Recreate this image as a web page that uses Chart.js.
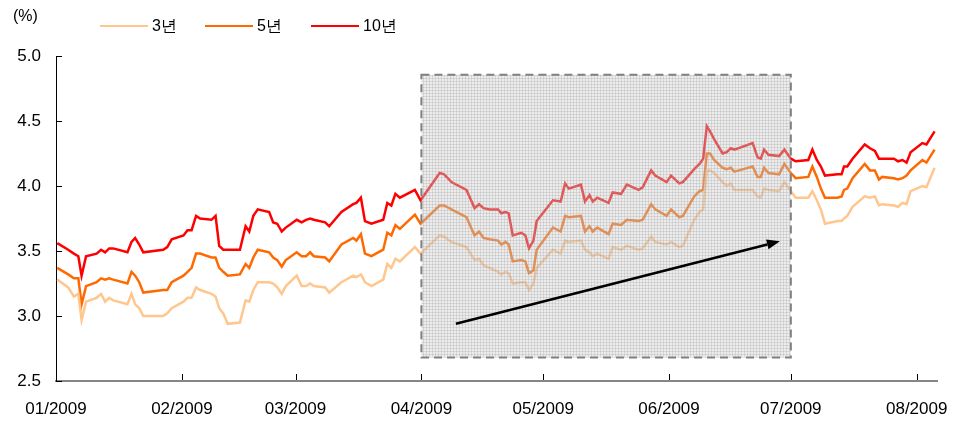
<!DOCTYPE html>
<html lang="ko">
<head>
<meta charset="utf-8">
<title>국고채 금리</title>
<script src="https://cdn.jsdelivr.net/npm/chart.js@4.4.1/dist/chart.umd.min.js"></script>
<style>
  html, body { margin: 0; padding: 0; background: #fff; }
  #wrap { width: 963px; height: 425px; }
</style>
</head>
<body>
<div id="wrap"><canvas id="chart" width="963" height="425"></canvas></div>
<script>
// day of year (0 = 1 Jan 2009) for each observation
const days = [
  0.3, 3.0, 4.4, 5.5, 6.3, 7.4, 10.0, 11.1, 12.1, 13.1, 14.1, 17.6, 18.6, 19.5, 20.5, 21.5, 26.4, 27.4, 28.5, 31.4,
  32.4, 33.4, 34.5, 35.5, 38.3, 39.3, 40.2, 41.2, 42.3, 45.3, 46.7, 47.6, 48.6, 49.7, 52.5, 53.5, 54.5, 55.6, 56.6, 59.3,
  60.5, 61.6, 62.6, 63.5, 66.3, 67.3,
  70.3, 73.2, 74.0, 75.1, 76.1, 77.7, 80.6, 81.6, 82.6, 83.6, 84.7, 88.4, 89.8, 94.5, 95.6, 97.4, 101.1, 103.1, 104.2, 105.3,
  106.8, 108.9, 109.7, 110.7, 111.5, 112.5, 114.6, 115.6, 116.5, 117.6, 118.4, 122.4, 124.3, 125.4, 126.3, 129.3, 130.3, 131.4, 132.2, 133.3,
  136.1, 137.1, 139.2, 140.6,
  143.5, 144.5, 146.6, 147.6, 150.4, 151.5, 153.5, 154.4, 157.2, 158.5, 159.4, 160.3, 161.1, 162.1, 164.2, 165.2, 166.2, 167.1, 171.6, 172.8,
  173.6, 174.4, 175.5, 178.1, 179.4, 181.0, 182.2, 185.3, 186.3, 187.4, 188.4, 189.4, 192.5, 193.5, 194.1, 194.9, 196.2, 199.2, 200.5, 201.7,
  202.7, 203.5, 206.4, 207.4, 208.5, 209.5, 210.5, 213.4, 214.4, 216.4
];

const yield3 = [
  3.28, 3.22, 3.15, 3.17, 2.97, 3.11, 3.14, 3.17, 3.11, 3.14, 3.12, 3.09, 3.17, 3.09, 3.06, 3.00, 3.00, 3.02, 3.06, 3.11,
  3.14, 3.14, 3.22, 3.20, 3.17, 3.15, 3.06, 3.02, 2.94, 2.95, 3.12, 3.11, 3.20, 3.26, 3.26, 3.25, 3.22, 3.17, 3.23, 3.31,
  3.23, 3.23, 3.25, 3.23, 3.22, 3.18,
  3.26, 3.31, 3.30, 3.32, 3.26, 3.23, 3.28, 3.40, 3.37, 3.44, 3.42, 3.53, 3.48, 3.62, 3.61, 3.57, 3.53, 3.43, 3.44, 3.39,
  3.37, 3.34, 3.32, 3.34, 3.33, 3.25, 3.26, 3.26, 3.20, 3.25, 3.37, 3.51, 3.48, 3.58, 3.57, 3.58, 3.51, 3.49, 3.46, 3.48,
  3.44, 3.53, 3.51, 3.54,
  3.51, 3.52, 3.61, 3.57, 3.55, 3.57, 3.53, 3.54, 3.74, 3.80, 3.82, 4.12, 4.12, 4.10, 4.03, 4.00, 4.02, 3.97, 3.97, 3.92,
  3.91, 3.98, 3.97, 3.96, 4.03, 3.96, 3.91, 3.91, 3.96, 3.89, 3.82, 3.71, 3.73, 3.73, 3.75, 3.77, 3.84, 3.92, 3.91, 3.92,
  3.85, 3.86, 3.85, 3.84, 3.87, 3.86, 3.96, 4.00, 3.99, 4.14
];

const yield5 = [
  3.37, 3.32, 3.29, 3.29, 3.09, 3.23, 3.26, 3.29, 3.28, 3.29, 3.28, 3.25, 3.34, 3.31, 3.26, 3.18, 3.20, 3.20, 3.26, 3.31,
  3.34, 3.37, 3.48, 3.48, 3.45, 3.45, 3.37, 3.34, 3.31, 3.32, 3.40, 3.37, 3.45, 3.51, 3.49, 3.45, 3.43, 3.38, 3.43, 3.49,
  3.46, 3.46, 3.49, 3.46, 3.45, 3.42,
  3.55, 3.60, 3.58, 3.63, 3.48, 3.46, 3.51, 3.64, 3.62, 3.70, 3.67, 3.78, 3.71, 3.85, 3.85, 3.82, 3.76, 3.62, 3.65, 3.60,
  3.59, 3.58, 3.55, 3.57, 3.55, 3.42, 3.43, 3.42, 3.33, 3.35, 3.51, 3.68, 3.65, 3.77, 3.76, 3.77, 3.65, 3.69, 3.65, 3.68,
  3.63, 3.71, 3.70, 3.74,
  3.73, 3.74, 3.86, 3.82, 3.77, 3.82, 3.76, 3.77, 3.92, 3.96, 3.97, 4.25, 4.25, 4.20, 4.14, 4.13, 4.14, 4.11, 4.15, 4.07,
  4.07, 4.14, 4.10, 4.09, 4.17, 4.10, 4.06, 4.07, 4.15, 4.07, 3.98, 3.91, 3.91, 3.92, 3.97, 3.98, 4.06, 4.17, 4.12, 4.12,
  4.05, 4.07, 4.06, 4.05, 4.06, 4.08, 4.12, 4.20, 4.18, 4.28
];

const yield10 = [
  3.56, 3.51, 3.48, 3.46, 3.31, 3.46, 3.48, 3.51, 3.49, 3.52, 3.52, 3.49, 3.57, 3.60, 3.55, 3.49, 3.51, 3.53, 3.59, 3.62,
  3.66, 3.66, 3.77, 3.75, 3.74, 3.77, 3.54, 3.51, 3.51, 3.51, 3.69, 3.65, 3.77, 3.82, 3.80, 3.72, 3.71, 3.65, 3.68, 3.74,
  3.72, 3.74, 3.75, 3.74, 3.72, 3.69,
  3.80, 3.86, 3.87, 3.91, 3.73, 3.71, 3.74, 3.87, 3.85, 3.94, 3.91, 3.97, 3.89, 4.10, 4.09, 4.03, 3.97, 3.83, 3.86, 3.83,
  3.82, 3.82, 3.79, 3.80, 3.79, 3.62, 3.64, 3.62, 3.52, 3.58, 3.73, 3.89, 3.88, 4.02, 3.98, 4.01, 3.88, 3.93, 3.88, 3.91,
  3.87, 3.95, 3.94, 4.01,
  3.97, 3.99, 4.12, 4.08, 4.03, 4.08, 4.02, 4.03, 4.13, 4.17, 4.21, 4.46, 4.42, 4.36, 4.25, 4.26, 4.29, 4.28, 4.33, 4.22,
  4.21, 4.28, 4.24, 4.23, 4.28, 4.21, 4.19, 4.20, 4.28, 4.20, 4.15, 4.08, 4.09, 4.09, 4.15, 4.15, 4.21, 4.32, 4.29, 4.27,
  4.21, 4.21, 4.21, 4.19, 4.20, 4.18, 4.26, 4.33, 4.32, 4.42
];

const seriesNames = ['3년', '5년', '10년'];
const seriesColors = ['#FFC68E', '#FF6A00', '#FF0000'];

const monthTicks = [0, 31, 59, 90, 120, 151, 181, 212];
const monthLabels = ['01/2009', '02/2009', '03/2009', '04/2009', '05/2009', '06/2009', '07/2009', '08/2009'];

// shaded period (Apr - Jun) and trend arrow
const shadeFrom = 90, shadeTo = 181, shadeLow = 2.68, shadeHigh = 4.855;
const arrowStart = [98.5, 2.94], arrowEnd = [178.3, 3.575];

const FONT = "'Liberation Sans', Arial, sans-serif";

function toPoints(vals) {
  return vals.map((v, i) => ({ x: days[i], y: v }));
}

// fine grid pattern for the shaded box
function makePattern(ctx) {
  const c = document.createElement('canvas');
  c.width = 3; c.height = 3;
  const p = c.getContext('2d');
  p.fillStyle = 'rgba(205,205,205,0.38)';
  p.fillRect(0, 0, 3, 3);
  p.fillStyle = 'rgba(150,150,150,0.25)';
  p.fillRect(0, 0, 3, 1);
  p.fillRect(0, 0, 1, 3);
  return ctx.createPattern(c, 'repeat');
}

const shadePlugin = {
  id: 'shade',
  afterDatasetsDraw(chart) {
    const { ctx, scales: { x, y } } = chart;
    const x0 = x.getPixelForValue(shadeFrom), x1 = x.getPixelForValue(shadeTo);
    const y0 = y.getPixelForValue(shadeHigh), y1 = y.getPixelForValue(shadeLow);
    ctx.save();
    ctx.fillStyle = makePattern(ctx);
    ctx.fillRect(x0, y0, x1 - x0, y1 - y0);
    ctx.setLineDash([8, 5]);
    ctx.strokeStyle = '#808080';
    ctx.lineWidth = 2;
    ctx.strokeRect(x0, y0, x1 - x0, y1 - y0);
    ctx.setLineDash([]);

    // arrow
    const ax = x.getPixelForValue(arrowStart[0]), ay = y.getPixelForValue(arrowStart[1]);
    const bx = x.getPixelForValue(arrowEnd[0]), by = y.getPixelForValue(arrowEnd[1]);
    const ang = Math.atan2(by - ay, bx - ax);
    const head = 13, half = 5;
    ctx.strokeStyle = '#000';
    ctx.fillStyle = '#000';
    ctx.lineWidth = 2.5;
    ctx.beginPath();
    ctx.moveTo(ax, ay);
    ctx.lineTo(bx - head * Math.cos(ang), by - head * Math.sin(ang));
    ctx.stroke();
    ctx.beginPath();
    ctx.moveTo(bx, by);
    ctx.lineTo(bx - head * Math.cos(ang) + half * Math.sin(ang), by - head * Math.sin(ang) - half * Math.cos(ang));
    ctx.lineTo(bx - head * Math.cos(ang) - half * Math.sin(ang), by - head * Math.sin(ang) + half * Math.cos(ang));
    ctx.closePath();
    ctx.fill();
    ctx.restore();
  }
};

// ticks drawn inward + unit label + legend
const decorPlugin = {
  id: 'decor',
  afterDraw(chart) {
    const { ctx, chartArea: a, scales: { x, y } } = chart;
    ctx.save();
    ctx.strokeStyle = '#000';
    ctx.lineWidth = 1;
    ctx.beginPath();
    monthTicks.slice(1).forEach(v => {
      const px = Math.round(x.getPixelForValue(v)) + 0.5;
      ctx.moveTo(px, a.bottom - 1);
      ctx.lineTo(px, a.bottom - 7);
    });
    y.ticks.forEach(t => {
      const py = Math.round(y.getPixelForValue(t.value)) + 0.5;
      ctx.moveTo(a.left, py);
      ctx.lineTo(a.left + 6, py);
    });
    ctx.stroke();

    ctx.fillStyle = '#000';
    ctx.font = '16px ' + FONT;
    ctx.textBaseline = 'middle';
    ctx.fillText('(%)', 13, 17);

    const lx = [100, 205, 311];
    seriesNames.forEach((name, i) => {
      ctx.strokeStyle = seriesColors[i];
      ctx.lineWidth = 2;
      ctx.beginPath();
      ctx.moveTo(lx[i], 26);
      ctx.lineTo(lx[i] + 48, 26);
      ctx.stroke();
      ctx.fillText(name, lx[i] + 52, 27);
    });
    ctx.restore();
  }
};

const ctx = document.getElementById('chart').getContext('2d');
new Chart(ctx, {
  type: 'line',
  data: {
    datasets: [yield3, yield5, yield10].map((vals, i) => ({
      label: seriesNames[i],
      data: toPoints(vals),
      borderColor: seriesColors[i],
      backgroundColor: seriesColors[i],
      borderWidth: 2.5,
      pointRadius: 0,
      tension: 0,
      fill: false
    }))
  },
  options: {
    responsive: false,
    animation: false,
    layout: { padding: { top: 56, right: 26, left: 0, bottom: 0 } },
    plugins: { legend: { display: false }, tooltip: { enabled: false } },
    scales: {
      x: {
        type: 'linear',
        min: 0,
        max: 217,
        afterBuildTicks(scale) {
          scale.ticks = monthTicks.map(v => ({ value: v }));
        },
        afterFit(scale) {
          scale.height = 44;
          scale.paddingLeft = 0;
          scale.paddingRight = 0;
        },
        grid: { display: false, drawTicks: false },
        border: { display: true, color: '#868686', width: 2 },
        ticks: {
          autoSkip: false,
          maxRotation: 0,
          padding: 18,
          color: '#000',
          font: { family: FONT, size: 17 },
          callback: (v, i) => monthLabels[i]
        }
      },
      y: {
        min: 2.5,
        max: 5.0,
        afterFit(scale) { scale.width = 56; },
        grid: { display: false, drawTicks: false },
        border: { display: true, color: '#000', width: 1 },
        ticks: {
          stepSize: 0.5,
          padding: 15,
          color: '#000',
          font: { family: FONT, size: 17 },
          callback: v => v.toFixed(1)
        }
      }
    }
  },
  plugins: [shadePlugin, decorPlugin]
});
</script>
</body>
</html>
